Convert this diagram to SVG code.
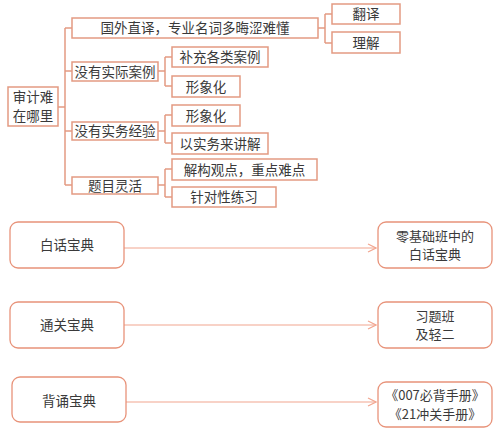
<svg xmlns="http://www.w3.org/2000/svg" width="500" height="435" viewBox="0 0 500 435">
<defs>
<style>
.t{font-family:"Noto Sans CJK SC","Noto Sans",sans-serif;font-size:13.5px;fill:#3a3a3a;text-anchor:middle}
.s{font-size:13px}
.b{fill:#fff;stroke:#E39A82;stroke-width:1.5}
.r{fill:#fff;stroke:#E8937A;stroke-width:1.3}
.c{fill:none;stroke:#E39A82;stroke-width:1.5}
.a{fill:none;stroke:#F2A690;stroke-width:1.2}
</style>
<marker id="arr" viewBox="0 0 10 10" refX="9" refY="5" markerWidth="10" markerHeight="10" markerUnits="userSpaceOnUse" orient="auto">
<path d="M1,1 L9,5 L1,9" fill="none" stroke="#F2A690" stroke-width="1.2"/>
</marker>
</defs>
<rect width="500" height="435" fill="#fff"/>
<g id="connectors">
<path class="c" d="M58,107 H65 M65,28 V185 M65,28 H72 M65,71 H72 M65,131 H72 M65,185 H72"/>
<path class="c" d="M318,28 H325 M325,14 V43 M325,14 H332 M325,43 H332"/>
<path class="c" d="M158,71 H165 M165,57 V86 M165,57 H172 M165,86 H172"/>
<path class="c" d="M158,131 H165 M165,115 V143 M165,115 H172 M165,143 H172"/>
<path class="c" d="M158,185 H165 M165,169 V197 M165,169 H172 M165,197 H172"/>
<path class="a" d="M124,248 H376" marker-end="url(#arr)"/>
<path class="a" d="M124,325 H376" marker-end="url(#arr)"/>
<path class="a" d="M126,402 H376" marker-end="url(#arr)"/>
</g>
<g id="root"><rect class="b" x="8" y="87" width="50" height="39"/><text class="t" x="33" y="102">审计难</text><text class="t" x="33" y="121">在哪里</text></g>
<g id="n1"><rect class="b" x="72" y="18" width="246" height="20"/><text class="t" x="195" y="33">国外直译，专业名词多晦涩难懂</text></g>
<g id="n1a"><rect class="b" x="332" y="4" width="68" height="20"/><text class="t" x="366" y="19">翻译</text></g>
<g id="n1b"><rect class="b" x="332" y="32" width="68" height="21"/><text class="t" x="366" y="47.5">理解</text></g>
<g id="n2"><rect class="b" x="72" y="62" width="86" height="19"/><text class="t" x="115" y="76.5">没有实际案例</text></g>
<g id="n2a"><rect class="b" x="172" y="47" width="96" height="20"/><text class="t" x="220" y="62">补充各类案例</text></g>
<g id="n2b"><rect class="b" x="172" y="76" width="68" height="21"/><text class="t" x="206" y="91.5">形象化</text></g>
<g id="n3"><rect class="b" x="72" y="122" width="86" height="18"/><text class="t" x="115" y="136">没有实务经验</text></g>
<g id="n3a"><rect class="b" x="172" y="105" width="68" height="21"/><text class="t" x="206" y="120.5">形象化</text></g>
<g id="n3b"><rect class="b" x="172" y="133" width="96" height="21"/><text class="t" x="220" y="148.5">以实务来讲解</text></g>
<g id="n4"><rect class="b" x="72" y="177" width="86" height="17"/><text class="t" x="115" y="190.5">题目灵活</text></g>
<g id="n4a"><rect class="b" x="172" y="159" width="145" height="21"/><text class="t" x="244.5" y="174.5">解构观点，重点难点</text></g>
<g id="n4b"><rect class="b" x="172" y="187" width="104" height="20"/><text class="t" x="224" y="202">针对性练习</text></g>
<g id="w1"><rect class="r" x="10" y="222" width="114" height="46" rx="8"/><text class="t" x="67" y="250">白话宝典</text></g>
<g id="w2"><rect class="r" x="378" y="222" width="114" height="46" rx="8"/><text class="t s" x="435" y="240.5">零基础班中的</text><text class="t s" x="435" y="259">白话宝典</text></g>
<g id="g1"><rect class="r" x="10" y="302" width="114" height="46" rx="8"/><text class="t" x="67" y="330">通关宝典</text></g>
<g id="g2"><rect class="r" x="378" y="302" width="114" height="46" rx="8"/><text class="t s" x="435" y="320.5">习题班</text><text class="t s" x="435" y="339">及轻二</text></g>
<g id="b1"><rect class="r" x="12" y="377" width="114" height="45" rx="8"/><text class="t" x="69" y="406">背诵宝典</text></g>
<g id="b2"><rect class="r" x="378" y="382" width="114" height="45" rx="8"/><text class="t s" x="435" y="400">《007必背手册》</text><text class="t s" x="435" y="418.5">《21冲关手册》</text></g>
</svg>
